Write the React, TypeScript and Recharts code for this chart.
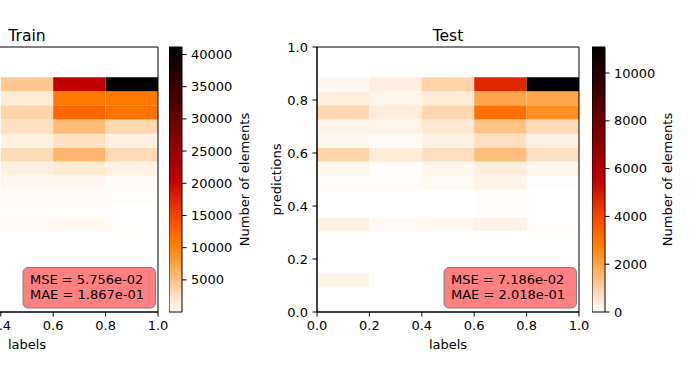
import React from 'react'
import { ComposedChart, XAxis, YAxis, ReferenceArea, Label, Scatter } from 'recharts'

// histogram bin edges
const labelBins = [0, 0.2, 0.4, 0.6, 0.8, 1.0]
const predBins = [0.093, 0.146, 0.199, 0.252, 0.305, 0.357, 0.41, 0.463, 0.515, 0.568, 0.62, 0.673, 0.726, 0.78, 0.833, 0.886]
const unitTicks = [0, 0.2, 0.4, 0.6, 0.8, 1.0]
// the train panel is cropped on the left, only these ticks are in view
const trainTicks = [0.4, 0.6, 0.8, 1.0]

// counts per label bin, from the lowest prediction bin to the highest
const trainLab04 = [10, 10, 10, 10, 390, 200, 280, 686, 1170, 2865, 1240, 2550, 3500, 1570, 4480]
const trainLab06 = [10, 10, 10, 10, 515, 200, 280, 640, 1735, 5930, 2550, 5440, 12350, 10900, 20500]
const trainLab08 = [10, 10, 10, 10, 200, 30, 200, 360, 1090, 3025, 1240, 3170, 11200, 10800, 41160]

const testLab00 = [250, 0, 0, 0, 337, 0, 0, 55, 206, 900, 206, 250, 860, 370, 163]
const testLab02 = [0, 0, 0, 0, 109, 0, 0, 55, 55, 424, 100, 250, 370, 250, 370]
const testLab04 = [0, 0, 0, 0, 141, 0, 0, 141, 185, 685, 290, 510, 860, 424, 946]
const testLab06 = [0, 0, 0, 0, 272, 35, 55, 272, 370, 1425, 685, 1295, 3110, 1950, 4660]
const testLab08 = [0, 0, 0, 0, 55, 0, 0, 44, 185, 640, 337, 772, 2415, 1950, 11090]

const trainRange = [10, 41160]
const testRange = [0, 11090]
const trainCbTicks = [5000, 10000, 15000, 20000, 25000, 30000, 35000, 40000]
const testCbTicks = [0, 2000, 4000, 6000, 8000, 10000]

const trainStats = ['MSE = 5.756e-02', 'MAE = 1.867e-01']
const testStats = ['MSE = 7.186e-02', 'MAE = 2.018e-01']

const FONT = "'DejaVu Sans', sans-serif"
const tickStyle = { fontSize: 13, fill: '#000', fontFamily: FONT }

// matplotlib gist_heat_r
const heat = (t: number) => {
  const x = 1 - Math.min(1, Math.max(0, t))
  const r = Math.min(1, 1.5 * x)
  const g = Math.min(1, Math.max(0, 2 * x - 1))
  const b = Math.min(1, Math.max(0, 4 * x - 3))
  return `rgb(${Math.round(r * 255)},${Math.round(g * 255)},${Math.round(b * 255)})`
}

const sideLabel = (text: string, dx: number) => (props: any) => {
  const vb = props.viewBox
  const x = vb.x + dx
  const y = vb.y + vb.height / 2
  return (
    <text x={x} y={y} transform={`rotate(-90 ${x} ${y})`} textAnchor="middle" dominantBaseline="central"
      fontSize={13} fontFamily={FONT} fill="#000">{text}</text>
  )
}

const bottomLabel = (text: string, dy: number) => (props: any) => {
  const vb = props.viewBox
  return (
    <text x={vb.x + vb.width / 2} y={vb.y + dy} textAnchor="middle" dominantBaseline="central"
      fontSize={13} fontFamily={FONT} fill="#000">{text}</text>
  )
}

const noShape = () => <g />

type Col = [number, number[]]

const Heatmap = ({ left, columns, range, xTicks, yLabel }:
  { left: number; columns: Col[]; range: number[]; xTicks: number[]; yLabel: boolean }) => {
  const [lo, hi] = range
  const cells = columns.flatMap(([i, counts]) =>
    counts.map((c, j) => ({
      i, j, count: c,
      x: (labelBins[i] + labelBins[i + 1]) / 2,
      y: (predBins[j] + predBins[j + 1]) / 2,
    }))
  )
  return (
    <div style={{ position: 'absolute', left, top: 37 }}>
      <ComposedChart width={332} height={315} margin={{ top: 10, right: 10, bottom: 0, left: 0 }} data={cells}>
        <XAxis type="number" dataKey="x" domain={[0, 1]} ticks={xTicks} interval={0} height={40}
          tickFormatter={(v) => v.toFixed(1)} tick={tickStyle} tickSize={4.5} tickMargin={4.5}
          axisLine={{ stroke: '#000' }} tickLine={{ stroke: '#000' }} allowDataOverflow>
          <Label content={bottomLabel('labels', 32.7)} />
        </XAxis>
        <YAxis type="number" dataKey="y" domain={[0, 1]} ticks={unitTicks} interval={0} width={60}
          tickFormatter={(v) => v.toFixed(1)} tick={yLabel ? tickStyle : false} tickSize={4.5} tickMargin={4.5}
          axisLine={{ stroke: '#000' }} tickLine={{ stroke: '#000' }} allowDataOverflow>
          {yLabel && <Label content={sideLabel('predictions', 19.5)} />}
        </YAxis>
        <Scatter data={cells} dataKey="y" shape={noShape} isAnimationActive={false} />
        {cells.map((c) =>
          c.count > 0 ? (
            <ReferenceArea key={`${c.i}-${c.j}`} x1={labelBins[c.i]} x2={labelBins[c.i + 1]} y1={predBins[c.j]} y2={predBins[c.j + 1]}
              fill={heat((c.count - lo) / (hi - lo))} fillOpacity={1} stroke="none" ifOverflow="visible" />
          ) : null
        )}
        <ReferenceArea x1={0} x2={1} y1={0} y2={1} fill="none" fillOpacity={0} stroke="#000" strokeWidth={1} ifOverflow="visible" />
      </ComposedChart>
    </div>
  )
}

const ColorBar = ({ left, id, range, ticks }: { left: number; id: string; range: number[]; ticks: number[] }) => {
  const ends = [{ x: 0.5, y: range[0] }, { x: 0.5, y: range[1] }]
  return (
    <div style={{ position: 'absolute', left, top: 37 }}>
      <ComposedChart width={93} height={285} margin={{ top: 10, right: 0, bottom: 10, left: 0 }} data={ends}>
        <XAxis type="number" dataKey="x" domain={[0, 1]} hide />
        <YAxis type="number" dataKey="y" orientation="right" domain={range} ticks={ticks} interval={0} width={80}
          tick={tickStyle} tickSize={4.5} tickMargin={4.5} axisLine={false} tickLine={{ stroke: '#000' }} allowDataOverflow>
          <Label content={sideLabel('Number of elements', 62.5)} />
        </YAxis>
        <Scatter data={ends} dataKey="y" shape={noShape} isAnimationActive={false} />
        <ReferenceArea x1={0} x2={1} y1={range[0]} y2={range[1]} fill={`url(#${id})`} fillOpacity={1}
          stroke="#000" strokeWidth={1} ifOverflow="visible" />
      </ComposedChart>
    </div>
  )
}

const stops = Array.from({ length: 21 }, (_, k) => k / 20)

const Gradient = ({ id }: { id: string }) => (
  <linearGradient id={id} x1="0" y1="1" x2="0" y2="0">
    {stops.map((t) => <stop key={t} offset={t} stopColor={heat(t)} />)}
  </linearGradient>
)

const StatBox = ({ right, lines }: { right: number; lines: string[] }) => {
  const x = right - 2.5 - 132.5
  return (
    <g>
      <rect x={x} y={267.5} width={132.5} height={40.5} rx={5} fill="#ff8080" stroke="#808080" strokeWidth={1} />
      {lines.map((l, k) => (
        <text key={l} x={x + 7} y={283.5 + k * 15} fontSize={13} fontFamily={FONT} fill="#000">{l}</text>
      ))}
    </g>
  )
}

export default function App() {
  return (
    <div style={{ position: 'absolute', left: 0, top: 0, width: 689, height: 382, overflow: 'hidden', background: '#fff' }}>
      <Heatmap left={-164} range={trainRange} xTicks={trainTicks} yLabel={false}
        columns={[[2, trainLab04], [3, trainLab06], [4, trainLab08]]} />
      <ColorBar left={169} id="cbTrain" range={trainRange} ticks={trainCbTicks} />
      <Heatmap left={257} range={testRange} xTicks={unitTicks} yLabel
        columns={[[0, testLab00], [1, testLab02], [2, testLab04], [3, testLab06], [4, testLab08]]} />
      <ColorBar left={592} id="cbTest" range={testRange} ticks={testCbTicks} />
      <svg width={689} height={382} style={{ position: 'absolute', left: 0, top: 0, pointerEvents: 'none' }}>
        <defs>
          <Gradient id="cbTrain" />
          <Gradient id="cbTest" />
        </defs>
        <text x={27} y={40.5} textAnchor="middle" fontSize={15.6} fontFamily={FONT} fill="#000">Train</text>
        <text x={448} y={40.5} textAnchor="middle" fontSize={15.6} fontFamily={FONT} fill="#000">Test</text>
        <StatBox right={158} lines={trainStats} />
        <StatBox right={579} lines={testStats} />
      </svg>
    </div>
  )
}
